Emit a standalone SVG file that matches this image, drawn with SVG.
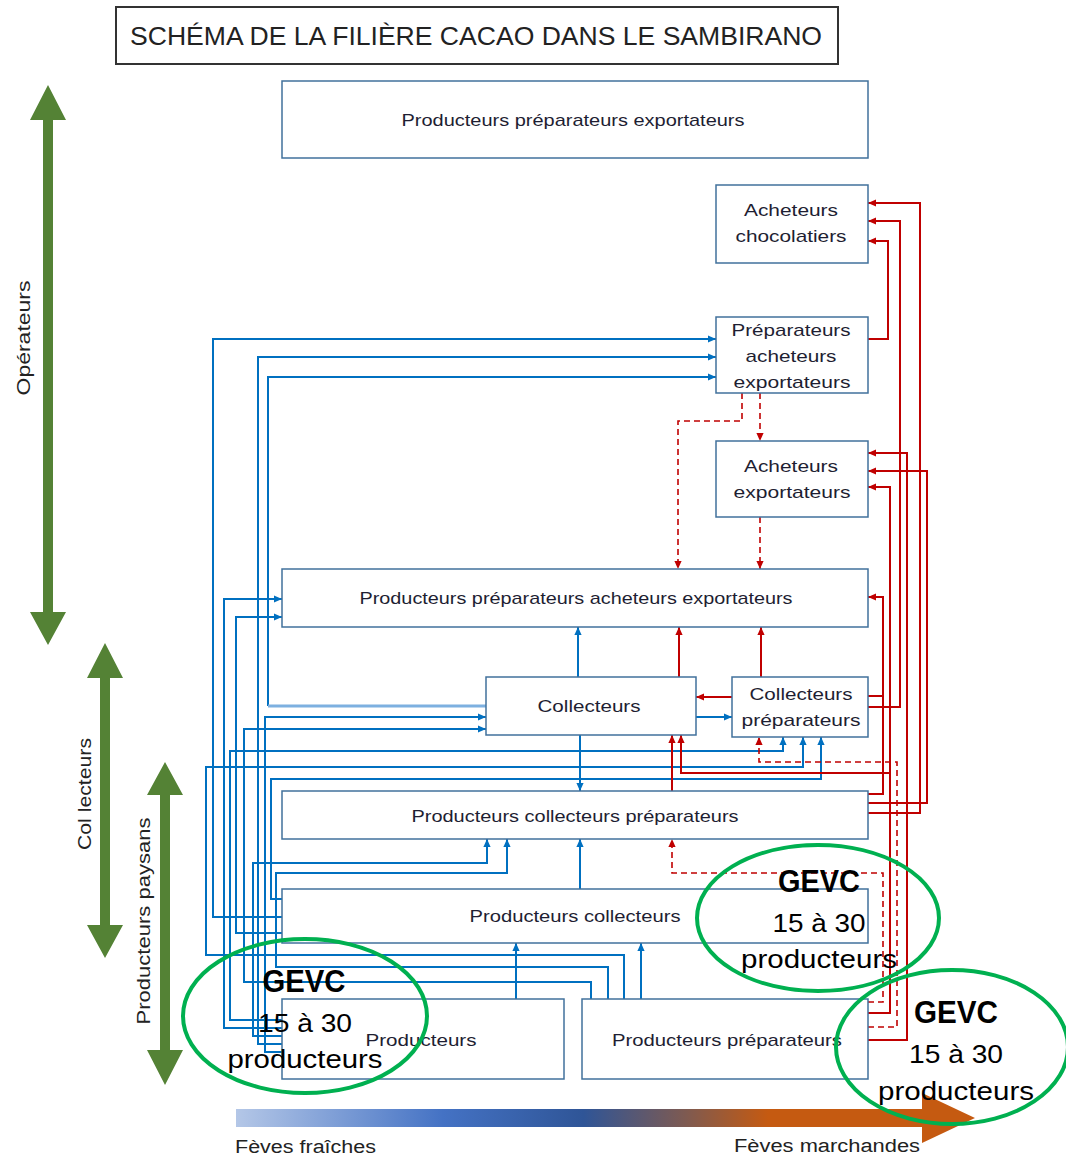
<svg xmlns="http://www.w3.org/2000/svg" width="1066" height="1160" viewBox="0 0 1066 1160">
<style>
.box{fill:#fff;stroke:#41719C;stroke-width:1.5}
.t{font-family:"Liberation Sans",Arial,sans-serif;font-size:17px;fill:#1e1e32;text-anchor:middle}
.b{fill:none;stroke:#0070C0;stroke-width:2}
.r{fill:none;stroke:#C00000;stroke-width:2}
.d{fill:none;stroke:#C00000;stroke-width:1.6;stroke-dasharray:6,4}
.ga{fill:#548235}
.gl{font-family:"Liberation Sans",Arial,sans-serif;font-size:19px;fill:#222;text-anchor:middle}
.ell{fill:none;stroke:#00B050;stroke-width:4}
.g1{font-family:"Liberation Sans",Arial,sans-serif;font-weight:bold;font-size:32px;fill:#000;text-anchor:middle}
.g2{font-family:"Liberation Sans",Arial,sans-serif;font-size:26px;fill:#000;text-anchor:middle}
</style>
<defs>
<marker id="ab" viewBox="0 0 10 10" refX="10" refY="5" markerWidth="8" markerHeight="8" markerUnits="userSpaceOnUse" orient="auto"><path d="M0,0.5 L10,5 L0,9.5 z" fill="#0070C0"/></marker>
<marker id="ar" viewBox="0 0 10 10" refX="10" refY="5" markerWidth="8" markerHeight="8" markerUnits="userSpaceOnUse" orient="auto"><path d="M0,0.5 L10,5 L0,9.5 z" fill="#C00000"/></marker>
<linearGradient id="grad" gradientUnits="userSpaceOnUse" x1="236" y1="0" x2="975" y2="0">
<stop offset="0" stop-color="#B4C7E7"/>
<stop offset="0.28" stop-color="#4472C4"/>
<stop offset="0.47" stop-color="#2F5597"/>
<stop offset="0.61" stop-color="#7F5A50"/>
<stop offset="0.72" stop-color="#C55A11"/>
<stop offset="1" stop-color="#C55A11"/>
</linearGradient>
</defs>
<rect width="1066" height="1160" fill="#fff"/>

<g id="title">
<rect x="116" y="7" width="722" height="57" fill="#fff" stroke="#333" stroke-width="2"/>
<text x="476" y="45" font-family="Liberation Sans,Arial,sans-serif" font-size="26" fill="#222" text-anchor="middle" textLength="692" lengthAdjust="spacingAndGlyphs">SCHÉMA DE LA FILIÈRE  CACAO DANS LE SAMBIRANO</text>
</g>

<g id="side-arrows">
<g id="operateurs">
<polygon class="ga" points="48,85 66,120 53,120 53,612 66,612 48,645 30,612 43,612 43,120 30,120"/>
<text class="gl" transform="translate(30,338) rotate(-90)" textLength="115" lengthAdjust="spacingAndGlyphs">Opérateurs</text>
</g>
<g id="collecteurs-arrow">
<polygon class="ga" points="105,643 123,678 110,678 110,925 123,925 105,958 87,925 100,925 100,678 87,678"/>
<text class="gl" transform="translate(91,794) rotate(-90)" textLength="112" lengthAdjust="spacingAndGlyphs">Col lecteurs</text>
</g>
<g id="paysans">
<polygon class="ga" points="165,762 183,795 170,795 170,1050 183,1050 165,1085 147,1050 160,1050 160,795 147,795"/>
<text class="gl" transform="translate(150,921) rotate(-90)" textLength="207" lengthAdjust="spacingAndGlyphs">Producteurs paysans</text>
</g>
</g>

<g id="connectors">
<path class="b" d="M282,917 H213 V339 H716" marker-end="url(#ab)"/>
<path class="b" d="M282,1044 H258 V357 H716" marker-end="url(#ab)"/>
<path class="b" d="M268,706 V377 H716" marker-end="url(#ab)"/>
<path d="M486,706 H268" fill="none" stroke="#7DB0E0" stroke-width="3"/>
<path class="b" d="M282,1028 H224 V599 H282" marker-end="url(#ab)"/>
<path class="b" d="M282,933 H236 V617 H282" marker-end="url(#ab)"/>
<path class="b" d="M282,1052 H265 V717 H486" marker-end="url(#ab)"/>
<path class="b" d="M591,999 V982 H244 V729 H486" marker-end="url(#ab)"/>
<path class="b" d="M282,1020 H230 V751 H783 V737" marker-end="url(#ab)"/>
<path class="b" d="M624,999 V955 H206 V767 H803 V737" marker-end="url(#ab)"/>
<path class="b" d="M282,899 H271 V779 H821 V737" marker-end="url(#ab)"/>
<path class="b" d="M282,1036 H253 V863 H487 V839" marker-end="url(#ab)"/>
<path class="b" d="M608,999 V967 H276 V873 H507 V839" marker-end="url(#ab)"/>
<path class="b" d="M578,677 V627" marker-end="url(#ab)"/>
<path class="b" d="M580,735 V791" marker-end="url(#ab)"/>
<path class="b" d="M580,889 V839" marker-end="url(#ab)"/>
<path class="b" d="M516,999 V943" marker-end="url(#ab)"/>
<path class="b" d="M641,999 V943" marker-end="url(#ab)"/>
<path class="b" d="M696,717 H732" marker-end="url(#ab)"/>

<path class="r" d="M868,339 H888 V241 H868" marker-end="url(#ar)"/>
<path class="r" d="M868,707 H900 V221 H868" marker-end="url(#ar)"/>
<path class="r" d="M868,813 H920 V203 H868" marker-end="url(#ar)"/>
<path class="r" d="M868,696 H883 V597 H868" marker-end="url(#ar)"/>
<path class="r" d="M868,794 H883 V696"/>
<path class="r" d="M868,1013 H890 V487 H868" marker-end="url(#ar)"/>
<path class="r" d="M890,773 H681 V735" marker-end="url(#ar)"/>
<path class="r" d="M868,1040 H907 V453 H868" marker-end="url(#ar)"/>
<path class="r" d="M868,803 H927 V471 H868" marker-end="url(#ar)"/>
<path class="r" d="M679,677 V627" marker-end="url(#ar)"/>
<path class="r" d="M761,677 V627" marker-end="url(#ar)"/>
<path class="r" d="M732,697 H696" marker-end="url(#ar)"/>
<path class="r" d="M672,791 V735" marker-end="url(#ar)"/>

<path class="d" d="M760,393 V441" marker-end="url(#ar)"/>
<path class="d" d="M760,517 V569" marker-end="url(#ar)"/>
<path class="d" d="M742,393 V421 H678 V569" marker-end="url(#ar)"/>
<path class="d" d="M868,1002 H883 V873 H672 V839" marker-end="url(#ar)"/>
<path class="d" d="M868,1027 H897 V762 H759 V737" marker-end="url(#ar)"/>
</g>

<g id="n-ppe"><rect class="box" x="282" y="81" width="586" height="77"/><text class="t" x="573" y="126" textLength="343" lengthAdjust="spacingAndGlyphs">Producteurs préparateurs exportateurs</text></g>
<g id="n-ac"><rect class="box" x="716" y="185" width="152" height="78"/><text class="t" x="791" y="216" textLength="94" lengthAdjust="spacingAndGlyphs">Acheteurs</text><text class="t" x="791" y="242" textLength="111" lengthAdjust="spacingAndGlyphs">chocolatiers</text></g>
<g id="n-pae"><rect class="box" x="716" y="317" width="152" height="76"/><text class="t" x="791" y="336" textLength="119" lengthAdjust="spacingAndGlyphs">Préparateurs</text><text class="t" x="791" y="362" textLength="91" lengthAdjust="spacingAndGlyphs">acheteurs</text><text class="t" x="792" y="388" textLength="117" lengthAdjust="spacingAndGlyphs">exportateurs</text></g>
<g id="n-ae"><rect class="box" x="716" y="441" width="152" height="76"/><text class="t" x="791" y="472" textLength="94" lengthAdjust="spacingAndGlyphs">Acheteurs</text><text class="t" x="792" y="498" textLength="117" lengthAdjust="spacingAndGlyphs">exportateurs</text></g>
<g id="n-ppae"><rect class="box" x="282" y="569" width="586" height="58"/><text class="t" x="576" y="604" textLength="433" lengthAdjust="spacingAndGlyphs">Producteurs préparateurs acheteurs exportateurs</text></g>
<g id="n-coll"><rect class="box" x="486" y="677" width="210" height="58"/><text class="t" x="589" y="712" textLength="103" lengthAdjust="spacingAndGlyphs">Collecteurs</text></g>
<g id="n-cp"><rect class="box" x="732" y="677" width="136" height="60"/><text class="t" x="801" y="700" textLength="103" lengthAdjust="spacingAndGlyphs">Collecteurs</text><text class="t" x="801" y="726" textLength="119" lengthAdjust="spacingAndGlyphs">préparateurs</text></g>
<g id="n-pcp"><rect class="box" x="282" y="791" width="586" height="48"/><text class="t" x="575" y="822" textLength="327" lengthAdjust="spacingAndGlyphs">Producteurs collecteurs préparateurs</text></g>
<g id="n-pc"><rect class="box" x="282" y="889" width="586" height="54"/><text class="t" x="575" y="922" textLength="211" lengthAdjust="spacingAndGlyphs">Producteurs collecteurs</text></g>
<g id="n-p"><rect class="box" x="282" y="999" width="282" height="80"/><text class="t" x="421" y="1046" textLength="111" lengthAdjust="spacingAndGlyphs">Producteurs</text></g>
<g id="n-pp"><rect class="box" x="582" y="999" width="286" height="80"/><text class="t" x="727" y="1046" textLength="230" lengthAdjust="spacingAndGlyphs">Producteurs préparateurs</text></g>

<g id="gradient-arrow">
<polygon points="236,1109 922,1109 922,1093 975,1118 922,1143 922,1127 236,1127" fill="url(#grad)"/>
<text x="235" y="1153" font-family="Liberation Sans,Arial,sans-serif" font-size="18" fill="#222" textLength="141" lengthAdjust="spacingAndGlyphs">Fèves fraîches</text>
<text x="920" y="1152" font-family="Liberation Sans,Arial,sans-serif" font-size="18" fill="#222" text-anchor="end" textLength="186" lengthAdjust="spacingAndGlyphs">Fèves marchandes</text>
</g>

<g id="gevc-1">
<ellipse class="ell" cx="818" cy="918" rx="121" ry="73"/>
<text class="g1" x="819" y="892" textLength="82" lengthAdjust="spacingAndGlyphs">GEVC</text>
<text class="g2" x="819" y="932" textLength="93" lengthAdjust="spacingAndGlyphs">15 à 30</text>
<text class="g2" x="819" y="968" textLength="156" lengthAdjust="spacingAndGlyphs">producteurs</text>
</g>
<g id="gevc-2">
<ellipse class="ell" cx="305" cy="1016" rx="122" ry="77"/>
<text class="g1" x="304" y="992" textLength="83" lengthAdjust="spacingAndGlyphs">GEVC</text>
<text class="g2" x="305" y="1032" textLength="94" lengthAdjust="spacingAndGlyphs">15 à 30</text>
<text class="g2" x="305" y="1068" textLength="155" lengthAdjust="spacingAndGlyphs">producteurs</text>
</g>
<g id="gevc-3">
<ellipse class="ell" cx="952" cy="1047" rx="116" ry="77"/>
<text class="g1" x="956" y="1023" textLength="84" lengthAdjust="spacingAndGlyphs">GEVC</text>
<text class="g2" x="956" y="1063" textLength="94" lengthAdjust="spacingAndGlyphs">15 à 30</text>
<text class="g2" x="956" y="1100" textLength="156" lengthAdjust="spacingAndGlyphs">producteurs</text>
</g>
</svg>
